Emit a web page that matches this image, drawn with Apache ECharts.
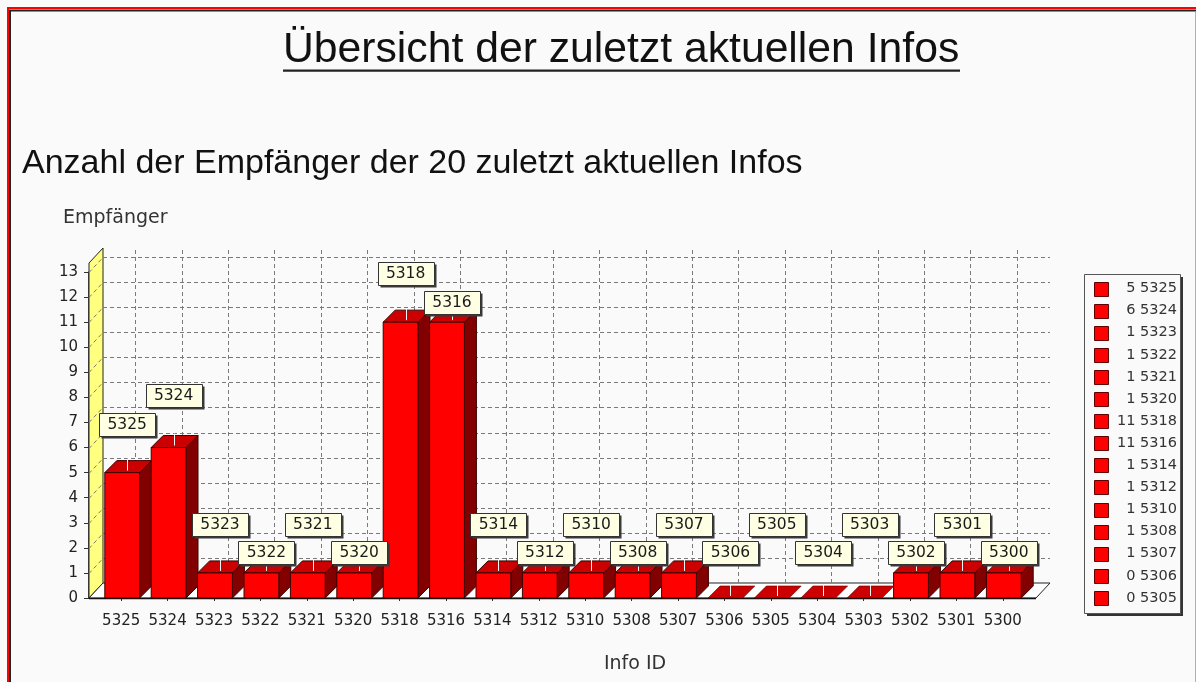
<!DOCTYPE html>
<html><head><meta charset="utf-8">
<script src="https://cdn.jsdelivr.net/npm/echarts@6/dist/echarts.min.js"></script>
<style>html,body{margin:0;padding:0;background:#fafafa}#c{width:1196px;height:682px}</style>
</head><body><div id="c"></div>
<script>
// ---- data ----
const categories = ['5325','5324','5323','5322','5321','5320','5318','5316','5314','5312','5310','5308','5307','5306','5305','5304','5303','5302','5301','5300'];
const values = [5,6,1,1,1,1,11,11,1,1,1,1,1,0,0,0,0,1,1,1];
const legendShown = 15;          // the legend box only shows the first 15 entries
const yMin = 0, yMax = 13, yInterval = 1;
const titleText = 'Übersicht der zuletzt aktuellen Infos';
const subtitleText = 'Anzahl der Empfänger der 20 zuletzt aktuellen Infos';
const yName = 'Empfänger';
const xName = 'Info ID';

// ---- style constants ----
const WALL_DX = 14, WALL_DY = 15, BAR_DX = 12, BAR_DY = 12;
const BOX_W = 56, BOX_H = 23;
const SMALL = '"DejaVu Sans", sans-serif';
const BIG = '"Liberation Sans", Arial, sans-serif';

const chart = echarts.init(document.getElementById('c'), null, {renderer: 'canvas'});

function T(text, x, y, size, family, align, color) {
  return {type: 'text', silent: true, style: {text: text, x: x, y: y, font: size + 'px ' + family,
    fill: color || '#222', align: align, verticalAlign: 'middle', textAlign: align, textVerticalAlign: 'middle'}};
}

function labelYs(api) {
  const ys = [];
  for (let i = 0; i < values.length; i++) {
    const v = Math.max(values[i], 1);
    const top = api.coord([i, v])[1] - BAR_DY;
    let y = top - (i % 2 === 0 ? 36.5 : 8);
    if (i > 0 && Math.abs(y - ys[i - 1]) < BOX_H + 3) y = ys[i - 1] - (BOX_H + 6);
    ys.push(y);
  }
  return ys;
}

const dash = {stroke: '#7a7a7a', lineWidth: 1, lineDash: [4, 3], fill: null};

function renderBackdrop(params, api) {
  const cs = params.coordSys;
  const L = cs.x - 9, R = cs.x + cs.width + 10;
  const B = api.coord([0, yMin])[1];
  const Tp = api.coord([0, yMax])[1] - 9;
  const ch = [];
  ch.push({type: 'polygon', shape: {points: [[L, B], [L, Tp], [L + WALL_DX, Tp - WALL_DY], [L + WALL_DX, B - WALL_DY]]},
    style: {fill: '#ffff80', stroke: '#222', lineWidth: 1}});
  ch.push({type: 'polygon', shape: {points: [[L, B], [R, B], [R + WALL_DX, B - WALL_DY], [L + WALL_DX, B - WALL_DY]]},
    style: {fill: '#ffffff', stroke: '#222', lineWidth: 1}});
  for (let v = yMin + yInterval; v <= yMax; v += yInterval) {
    const y = Math.round(api.coord([0, v])[1]) + 0.5;
    ch.push({type: 'line', shape: {x1: L + WALL_DX, y1: y - WALL_DY, x2: R + WALL_DX, y2: y - WALL_DY}, style: dash});
    ch.push({type: 'line', shape: {x1: L, y1: y, x2: L + WALL_DX, y2: y - WALL_DY}, style: dash});
  }
  for (let i = 0; i < categories.length; i++) {
    const x = Math.round(api.coord([i, 0])[0] + WALL_DX) + 0.5;
    ch.push({type: 'line', shape: {x1: x, y1: B - WALL_DY, x2: x, y2: Tp - WALL_DY}, style: dash});
  }
  // front edge of floor
  ch.push({type: 'line', shape: {x1: L, y1: B + 0.5, x2: R, y2: B + 0.5}, style: {stroke: '#111', lineWidth: 1.5}});
  return {type: 'group', children: ch};
}

function renderBar(params, api) {
  const i = api.value(0), v = api.value(1);
  const c0 = api.coord([i, 0]), c1 = api.coord([i, v]);
  const w = api.size([1, 0])[0] * 0.75;
  const x = c0[0] - w / 2 + 1;
  const y0 = c0[1], y1 = c1[1];
  const ch = [];
  const st = {stroke: '#3a0000', lineWidth: 1};
  if (v > 0) {
    ch.push({type: 'polygon', shape: {points: [[x + w, y0], [x + w, y1], [x + w + BAR_DX, y1 - BAR_DY], [x + w + BAR_DX, y0 - BAR_DY]]},
      style: Object.assign({fill: '#820000'}, st)});
    ch.push({type: 'polygon', shape: {points: [[x, y1], [x + w, y1], [x + w + BAR_DX, y1 - BAR_DY], [x + BAR_DX, y1 - BAR_DY]]},
      style: Object.assign({fill: '#cc0000'}, st)});
    ch.push({type: 'rect', shape: {x: x, y: y1, width: w, height: y0 - y1},
      style: Object.assign({fill: '#ff0000'}, st)});
  } else {
    ch.push({type: 'polygon', shape: {points: [[x, y0], [x + w, y0], [x + w + BAR_DX, y0 - BAR_DY], [x + BAR_DX, y0 - BAR_DY]]},
      style: {fill: '#cc0000', stroke: '#5a0000', lineWidth: 0.6}});
  }
  const lx = Math.round(c0[0] + 6) + 0.5;
  ch.push({type: 'line', shape: {x1: lx, y1: y1 - 2, x2: lx, y2: y1 - BAR_DY - 2}, style: {stroke: '#f4f4f4', lineWidth: 1}});
  return {type: 'group', children: ch};
}

function renderLabel(params, api) {
  const i = api.value(0);
  const ys = labelYs(api);
  const cx = api.coord([i, 0])[0] + 6;
  const y = ys[i];
  const x = Math.round(cx - BOX_W / 2) + 0.5, yy = Math.round(y - BOX_H / 2) + 0.5;
  return {type: 'group', children: [
    {type: 'rect', shape: {x: x + 2, y: yy + 2, width: BOX_W, height: BOX_H}, style: {fill: '#3a3a3a'}},
    {type: 'rect', shape: {x: x, y: yy, width: BOX_W, height: BOX_H}, style: {fill: '#ffffe4', stroke: '#333', lineWidth: 1}},
    T(categories[i], cx, y + 0.5, 15.5, SMALL, 'center', '#1a1a1a')
  ]};
}

// legend built from the data arrays
const legendEls = [];
const LG = {x: 1084, y: 274, w: 96, h: 339, row0: 288.5, step: 22.1};
legendEls.push({type: 'rect', shape: {x: LG.x + 3, y: LG.y + 3, width: LG.w, height: LG.h}, style: {fill: '#333'}});
legendEls.push({type: 'rect', shape: {x: LG.x + 0.5, y: LG.y + 0.5, width: LG.w, height: LG.h}, style: {fill: '#fafafa', stroke: '#555', lineWidth: 1}});
for (let i = 0; i < legendShown; i++) {
  const cy = LG.row0 + i * LG.step;
  legendEls.push({type: 'rect', shape: {x: 1094.5, y: Math.round(cy - 7) + 0.5, width: 14, height: 14}, style: {fill: '#ff0000', stroke: '#600000', lineWidth: 1}});
  legendEls.push(T(values[i] + ' ' + categories[i], 1177, cy, 14.5, SMALL, 'right', '#333'));
}

const graphics = [
  {type: 'line', shape: {x1: 8, y1: 682, x2: 8, y2: 8}, style: {stroke: '#ff0000', lineWidth: 2}},
  {type: 'line', shape: {x1: 7, y1: 8, x2: 1196, y2: 8}, style: {stroke: '#ff0000', lineWidth: 2}},
  {type: 'line', shape: {x1: 10, y1: 682, x2: 10, y2: 10.5}, style: {stroke: '#222', lineWidth: 2}},
  {type: 'line', shape: {x1: 9, y1: 10.5, x2: 1196, y2: 10.5}, style: {stroke: '#222', lineWidth: 2}},
  {type: 'line', shape: {x1: 1195.5, y1: 12, x2: 1195.5, y2: 682}, style: {stroke: '#b0b0b0', lineWidth: 1}},
  T(titleText, 283, 50, 42.7, BIG, 'left', '#111'),
  {type: 'rect', shape: {x: 283, y: 69.5, width: 677, height: 2.2}, style: {fill: '#222'}},
  T(subtitleText, 22, 164, 34, BIG, 'left', '#111'),
  T(yName, 63, 218, 19, SMALL, 'left', '#333'),
  T(xName, 635, 664, 19, SMALL, 'center', '#333')
].concat(legendEls);

const option = {
  backgroundColor: '#fafafa',
  animation: false,
  grid: {left: 98, top: 272, width: 928, height: 326, containLabel: false},
  xAxis: {type: 'category', data: categories, boundaryGap: true,
    axisLine: {show: false}, axisTick: {show: true, alignWithLabel: true, length: 3, lineStyle: {color: '#333'}},
    axisLabel: {margin: 16, fontSize: 15, fontFamily: SMALL, color: '#222', interval: 0},
    splitLine: {show: false}},
  yAxis: {type: 'value', min: yMin, max: yMax, interval: yInterval, offset: 9,
    axisLine: {show: true, lineStyle: {color: '#111', width: 1.5}},
    axisTick: {show: true, length: 5, lineStyle: {color: '#333'}},
    axisLabel: {margin: 11, fontSize: 15, fontFamily: SMALL, color: '#222'},
    splitLine: {show: false}},
  series: [
    {type: 'custom', name: 'backdrop', z: 1, silent: true, data: [[0, 0]], renderItem: renderBackdrop},
    {type: 'custom', name: 'Empfänger', z: 2, silent: true, data: values.map((v, i) => [i, v]), renderItem: renderBar},
    {type: 'custom', name: 'labels', z: 3, silent: true, data: values.map((v, i) => [i, v]), renderItem: renderLabel}
  ],
  graphic: graphics
};
chart.setOption(option);
</script>
</body></html>
